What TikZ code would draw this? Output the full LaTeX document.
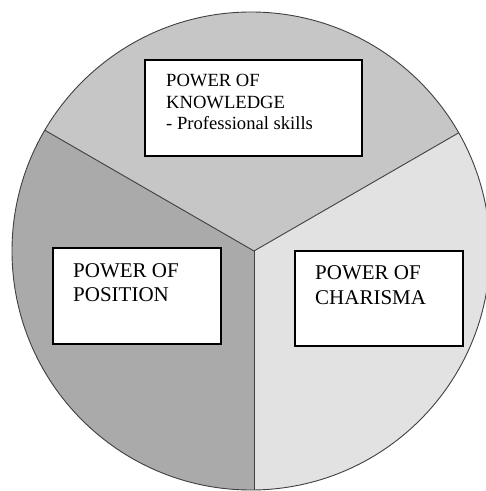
\documentclass[tikz,border=0pt]{standalone}
\usepackage{fontspec}
\setmainfont{Liberation Serif}
\usetikzlibrary{calc}
\tikzset{
  sectorline/.style={draw=black!75, line width=0.9pt},
  labelbox/.style={draw=black, line width=1.4pt, fill=white, inner sep=0pt},
  labeltext/.style={anchor=base west, align=left, inner sep=0pt, text=black},
}
\definecolor{topc}{HTML}{C6C6C6}
\definecolor{leftc}{HTML}{AAAAAA}
\definecolor{rightc}{HTML}{E2E2E2}
\begin{document}
\begin{tikzpicture}[x=1pt,y=1pt]
\useasboundingbox (0,0) rectangle (486,491);
\fill[white] (0,0) rectangle (486,491);
\begin{scope}
\clip (0,0) rectangle (486,491);
\coordinate (c) at (251,240);
\coordinate (j) at (254,240);
\begin{scope}
\clip (c) circle[radius=239];
\fill[topc] (c) circle[radius=239];
\fill[leftc] (j) -- +(150:400) -- +(-400,-400) -- +(0,-400) -- cycle;
\fill[rightc] (j) -- +(30:400) -- +(400,-400) -- +(0,-400) -- cycle;
\coordinate (e1) at ($(j)+(30:400)$);
\coordinate (e2) at ($(j)+(150:400)$);
\coordinate (e3) at ($(j)+(270:400)$);
\draw[sectorline] (j) -- (e1);
\draw[sectorline] (j) -- (e2);
\draw[sectorline] (j) -- (e3);
\end{scope}
\draw[sectorline] (c) circle[radius=239];
\end{scope}
\node[labelbox, minimum width=217, minimum height=96] (know) at (253.5,383) {};
\node[labelbox, minimum width=168, minimum height=96] (pos) at (137,195) {};
\node[labelbox, minimum width=168, minimum height=95] (cha) at (379,192.5) {};
\node[labeltext, font=\fontsize{18.6}{21.7}\selectfont] (knowt) at (166,361) {POWER OF\\KNOWLEDGE\\- Professional skills};
\node[labeltext, font=\fontsize{21}{24}\selectfont] (post) at (73,189) {POWER OF\\POSITION};
\node[labeltext, font=\fontsize{21}{25}\selectfont] (chat) at (315,186) {POWER OF\\CHARISMA};
\end{tikzpicture}
\end{document}
